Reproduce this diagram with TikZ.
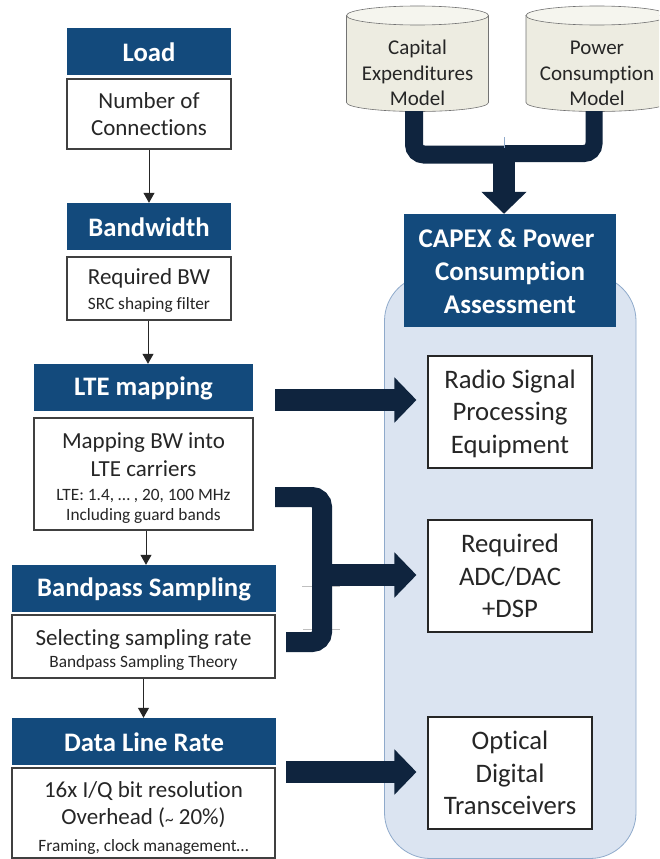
\documentclass[tikz,border=0pt]{standalone}
\usepackage{fontspec}
\setmainfont{Carlito}[Ligatures=NoCommon]
\usetikzlibrary{arrows.meta}
\definecolor{hdrblue}{RGB}{19,74,124}
\definecolor{navy}{RGB}{15,36,62}
\definecolor{panelfill}{RGB}{219,228,241}
\definecolor{panelline}{RGB}{143,170,203}
\definecolor{cylfill}{RGB}{237,236,225}
\definecolor{cyltop}{RGB}{245,245,238}
\definecolor{inktext}{RGB}{38,38,38}
\newcommand{\mainsz}{\fontsize{23}{28}\selectfont}
\newcommand{\smallsz}{\fontsize{17.3}{20}\selectfont}
\tikzset{
  hdrbox/.style={fill=hdrblue,text=white,inner sep=0pt,align=center,font=\bfseries\fontsize{26.7}{30}\selectfont},
  bodybox/.style={draw=black!75,line width=1.1pt,fill=white,text=inktext,inner sep=0pt,align=center,font=\mainsz},
  rightbox/.style={bodybox,draw=black!85,minimum width=164pt,minimum height=112pt,font=\fontsize{26.7}{32.7}\selectfont},
  cyltext/.style={text=inktext,inner sep=0pt,align=center,font=\fontsize{21}{25.5}\selectfont,minimum width=142pt,minimum height=96pt},
  flow/.style={-{Triangle[length=10pt,width=11pt]},line width=1pt,draw=black!85},
  fat/.style={-{Triangle[length=22pt,width=44pt]},line width=22pt,draw=navy},
  fatline/.style={draw=navy,rounded corners=10pt},
  ghost/.style={draw=black!25,line width=.5pt}
}
\begin{document}
\begin{tikzpicture}[x=1pt,y=-1pt]
\useasboundingbox (0,0) rectangle (659,859);
\clip (0,0) rectangle (659,859);
\fill[white] (0,0) rectangle (659,859);

% panel
\draw[fill=panelfill,draw=panelline,line width=.8pt,rounded corners=46pt] (384.5,275) rectangle (636,858.5);

% cylinders
\draw[fill=cylfill,draw=black!55,line width=.6pt] (346.5,15.5) -- (346.5,102.5) arc[start angle=180,end angle=360,x radius=71,y radius=-9] -- (488.5,15.5) -- cycle;
\draw[fill=cyltop,draw=black!55,line width=.6pt] (417.5,15.5) ellipse[x radius=71,y radius=9.5];
\draw[fill=cylfill,draw=black!55,line width=.6pt] (526,15.5) -- (526,102.5) arc[start angle=180,end angle=360,x radius=71,y radius=-9] -- (668,15.5) -- cycle;
\draw[fill=cyltop,draw=black!55,line width=.6pt] (597,15.5) ellipse[x radius=71,y radius=9.5];
\node[cyltext] (capex) at (417.5,73) {Capital\\Expenditures\\Model};
\node[cyltext] (power) at (597,73.5) {Power\\Consumption\\Model};

% left column
\node[hdrbox,minimum width=164pt,minimum height=47pt] (load) at (149,51.5) {\rule{0pt}{20pt}Load};
\node[bodybox,minimum width=164pt,minimum height=70pt] (loadb) at (149,114) {Number of\\[-1pt]Connections};
\node[hdrbox,minimum width=164pt,minimum height=47pt] (bw) at (149,226.5) {\rule{0pt}{20pt}Bandwidth};
\node[bodybox,minimum width=164pt,minimum height=63pt] (bwb) at (149,288.5) {\rule{0pt}{20pt}Required BW\\[-3pt]{\smallsz SRC shaping filter}};
\node[hdrbox,minimum width=219pt,minimum height=47pt] (lte) at (143.5,387.5) {\rule{0pt}{20pt}LTE mapping};
\node[bodybox,minimum width=219pt,minimum height=112pt] (lteb) at (143.5,474) {\rule{0pt}{23pt}Mapping BW into\\LTE carriers\\[-4pt]{\smallsz LTE: 1.4, … , 20, 100 MHz}\\[-8pt]{\smallsz Including guard bands}};
\node[hdrbox,minimum width=264pt,minimum height=47pt] (bps) at (144,588.5) {\rule{0pt}{20pt}Bandpass Sampling};
\node[bodybox,minimum width=263pt,minimum height=63pt] (bpsb) at (143.5,646.5) {\rule{0pt}{23pt}Selecting sampling rate\\[-6pt]{\smallsz Bandpass Sampling Theory}};
\node[hdrbox,minimum width=264pt,minimum height=47pt] (dlr) at (144,741.5) {\rule{0pt}{20pt}Data Line Rate};
\node[bodybox,minimum width=263pt,minimum height=90pt] (dlrb) at (143.5,813) {\rule{0pt}{26pt}16x I/Q bit resolution\\[-1pt]Overhead (\raisebox{-.1ex}{\smallsz\char`~} 20\%)\\[-1pt]{\smallsz Framing, clock management…}};

\draw[flow] (loadb.south) -- (bw.north);
\draw[flow] ([xshift=-1pt]bwb.south) -- ([xshift=4.5pt]lte.north);
\draw[flow] ([xshift=2.5pt]lteb.south) -- ([xshift=2pt]bps.north);
\draw[flow] (bpsb.south) -- ([xshift=-.5pt]dlr.north);

% right column
\node[hdrbox,minimum width=212pt,minimum height=113pt,font=\bfseries\fontsize{27}{33}\selectfont] (assess) at (510,270.5) {\rule{0pt}{20pt}CAPEX \& Power\hspace*{7pt}\\Consumption\hspace*{7pt}\\Assessment};
\node[rightbox] (radio) at (510,412) {\rule{0pt}{22pt}Radio Signal\\Processing\\Equipment};
\node[rightbox] (adc) at (510,576) {Required\\ADC/DAC\\+DSP};
\node[rightbox] (opt) at (510,773) {Optical\\Digital\\Transceivers};

% fat connectors
\coordinate (mergeL) at (504,154.5);
\coordinate (mergeR) at (504,153.5);
\draw[fatline,line width=18pt] ([xshift=-3.5pt]capex.south |- 0,111) -- (414,154.5) -- (mergeL);
\draw[fatline,line width=17pt] (594,111) -- (594,153.5) -- (mergeR);
\draw[fat,shorten >=0pt,line width=22pt] (mergeL) -- (mergeL |- assess.north);

\coordinate (ltefree) at (275,400);
\draw[fat,shorten >=11pt] (ltefree) -- (ltefree -| radio.west);

\coordinate (brtop) at (275,497);
\coordinate (brbot) at (286,642);
\coordinate (brmid) at (322,575);
\draw[ghost] (302,586) -- (340,586);
\draw[ghost] (303,629) -- (340,629);
\draw[fatline,line width=20pt] (brtop) -- (322,497) -- (322,642) -- (brbot);
\draw[fat,shorten >=11pt] (brmid) -- (brmid -| adc.west);

\coordinate (dlrfree) at (286,772);
\draw[fat,shorten >=11pt] (dlrfree) -- (dlrfree -| opt.west);

\draw[draw=panelline,line width=.4pt] (504,137) -- (504,148);
\end{tikzpicture}
\end{document}
